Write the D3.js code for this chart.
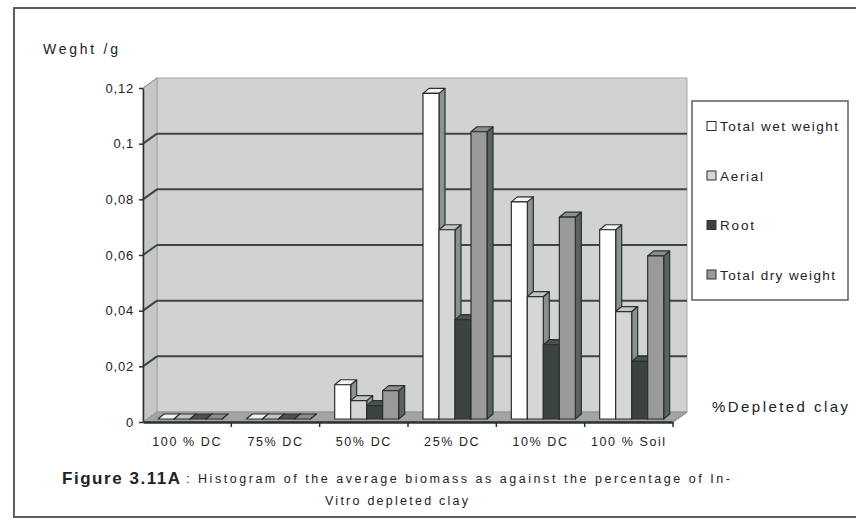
<!DOCTYPE html>
<html>
<head>
<meta charset="utf-8">
<script src="https://cdn.jsdelivr.net/npm/d3@7"></script>
<style>
  html, body { margin: 0; padding: 0; background: #fff; overflow: hidden; }
  svg { display: block; font-family: "Liberation Sans", Arial, sans-serif; }
</style>
</head>
<body>
<svg id="chart" width="856" height="519"></svg>
<script>
// Average biomass (g) per substrate treatment
const categories = ["100 % DC", "75% DC", "50% DC", "25% DC", "10% DC", "100 % Soil"];
const seriesNames = ["Total wet weight", "Aerial", "Root", "Total dry weight"];
const totalWet  = [0, 0, 0.0123, 0.117, 0.078, 0.068];
const aerial    = [0, 0, 0.0066, 0.068, 0.044, 0.0386];
const root      = [0, 0, 0.0048, 0.0357, 0.0267, 0.0207];
const totalDry  = [0, 0, 0.0102, 0.1032, 0.0725, 0.0586];
const yTickValues = [0, 0.02, 0.04, 0.06, 0.08, 0.1, 0.12];
const yTickLabels = ["0", "0,02", "0,04", "0,06", "0,08", "0,1", "0,12"];

const seriesValues = [totalWet, aerial, root, totalDry];
const faceFill = ["#ffffff", "#d6d6d6", "#3a4242", "#9a9a9a"];
const sideFill = ["#8c9292", "#8a9090", "#252b2b", "#5c6262"];
const topFill  = ["#f2f2f2", "#c4c4c4", "#4a5252", "#8a8e8e"];

const svg = d3.select("#chart");

// plot frame (front plane) and the 3D depth of the walls
const x0 = 143, x1 = 673, yBase = 422, yTop = 88;
const wallDx = 14, wallDy = -10;
const barDx = 3, barDy = -3;      // front face of the bars sits slightly behind the axis
const depthDx = 6, depthDy = -5;  // bar depth

const x = d3.scaleBand().domain(categories).range([x0, x1]).padding(0);
const xInner = d3.scaleBand().domain(seriesNames).range([12, 76]).padding(0);
const y = d3.scaleLinear().domain([0, 0.12]).range([yBase, yTop]);

// outer frame
svg.append("rect").attr("x", 14).attr("y", 8).attr("width", 860).attr("height", 509)
  .attr("fill", "none").attr("stroke", "#5a5f5f").attr("stroke-width", 2);

const line = d3.line();
const wall = svg.append("g");

// back wall
wall.append("rect")
  .attr("x", x0 + wallDx).attr("y", y(0.12) + wallDy)
  .attr("width", x1 - x0).attr("height", y(0) - y(0.12))
  .attr("fill", "#d2d2d2").attr("stroke", "#a6a6a6").attr("stroke-width", 1);
// side wall
wall.append("path")
  .attr("d", line([[x0, y(0.12)], [x0 + wallDx, y(0.12) + wallDy], [x0 + wallDx, y(0) + wallDy], [x0, y(0)]]) + "Z")
  .attr("fill", "#c6c6c6").attr("stroke", "#a6a6a6").attr("stroke-width", 1);
// floor
wall.append("path")
  .attr("d", line([[x0, y(0)], [x1, y(0)], [x1 + wallDx, y(0) + wallDy], [x0 + wallDx, y(0) + wallDy]]) + "Z")
  .attr("fill", "#a2a4a4").attr("stroke", "#8e9292").attr("stroke-width", 1);

// gridlines on back wall and side wall
const gridVals = yTickValues.filter(v => v > 0 && v < 0.12);
wall.selectAll("line.grid").data(gridVals).join("line")
  .attr("class", "grid")
  .attr("x1", x0 + wallDx).attr("x2", x1 + wallDx)
  .attr("y1", d => y(d) + wallDy).attr("y2", d => y(d) + wallDy)
  .attr("stroke", "#3c4444").attr("stroke-width", 2);
wall.selectAll("line.gridside").data(gridVals).join("line")
  .attr("class", "gridside")
  .attr("x1", x0).attr("x2", x0 + wallDx)
  .attr("y1", d => y(d)).attr("y2", d => y(d) + wallDy)
  .attr("stroke", "#3c4444").attr("stroke-width", 2);
wall.append("line")
  .attr("x1", x0).attr("x2", x0 + wallDx)
  .attr("y1", y(0.12)).attr("y2", y(0.12) + wallDy)
  .attr("stroke", "#8e9292").attr("stroke-width", 1);

// bars, drawn left to right so each one overlaps the side of its neighbour
const bars = [];
categories.forEach((c, ci) => {
  seriesNames.forEach((s, si) => {
    bars.push({ c, s, si, v: seriesValues[si][ci] });
  });
});

const barG = svg.append("g").attr("stroke", "#2a3030").attr("stroke-width", 1.2).attr("stroke-linejoin", "round");
bars.forEach(b => {
  const bx = x(b.c) + xInner(b.s) + barDx;
  const bw = xInner.bandwidth();
  const yt = y(b.v) + barDy;
  const yb = y(0) + barDy;
  const g = barG.append("g");
  // side face
  g.append("path")
    .attr("d", line([[bx + bw, yt], [bx + bw + depthDx, yt + depthDy], [bx + bw + depthDx, yb + depthDy], [bx + bw, yb]]) + "Z")
    .attr("fill", sideFill[b.si]);
  // top face
  g.append("path")
    .attr("d", line([[bx, yt], [bx + depthDx, yt + depthDy], [bx + bw + depthDx, yt + depthDy], [bx + bw, yt]]) + "Z")
    .attr("fill", topFill[b.si]);
  // front face
  g.append("rect")
    .attr("x", bx).attr("y", yt).attr("width", bw).attr("height", Math.max(0, yb - yt))
    .attr("fill", faceFill[b.si]);
});

// y axis
const yAxis = d3.axisLeft(y).tickValues(yTickValues)
  .tickFormat((d, i) => yTickLabels[i]).tickSize(4).tickSizeOuter(0).tickPadding(5);
const yAxisG = svg.append("g").attr("transform", `translate(${x0},0)`).call(yAxis);
yAxisG.select(".domain").attr("stroke", "#2a3030").attr("stroke-width", 1.5);
yAxisG.selectAll(".tick line").attr("stroke", "#2a3030").attr("stroke-width", 1.5);
yAxisG.selectAll(".tick text").attr("font-size", 13).attr("fill", "#222")
  .attr("letter-spacing", 0.8)
  .attr("font-family", "'Liberation Sans', Arial, sans-serif");

// x axis: labels at category centres, ticks at category boundaries
const xAxis = d3.axisBottom(x).tickSize(0).tickPadding(15);
const xAxisG = svg.append("g").attr("transform", `translate(0,${yBase})`).call(xAxis);
xAxisG.select(".domain").attr("stroke", "#2a3030").attr("stroke-width", 2.5);
xAxisG.selectAll(".tick text").attr("font-size", 12.5).attr("fill", "#222")
  .attr("letter-spacing", 1.6)
  .attr("font-family", "'Liberation Sans', Arial, sans-serif");
xAxisG.selectAll("line.bound").data(categories).join("line")
  .attr("class", "bound")
  .attr("x1", d => x(d) + x.bandwidth()).attr("x2", d => x(d) + x.bandwidth())
  .attr("y1", 0).attr("y2", 5)
  .attr("stroke", "#2a3030").attr("stroke-width", 1.5);
// right floor edge
svg.append("line")
  .attr("x1", x1).attr("y1", yBase).attr("x2", x1 + wallDx).attr("y2", yBase + wallDy)
  .attr("stroke", "#8e9292").attr("stroke-width", 1.5);

// axis titles
svg.append("text").attr("x", 43).attr("y", 54).attr("font-size", 14).attr("fill", "#222")
  .attr("textLength", 75).attr("lengthAdjust", "spacing").text("Weght /g");
svg.append("text").attr("x", 712).attr("y", 412).attr("font-size", 15).attr("fill", "#222")
  .attr("textLength", 136).attr("lengthAdjust", "spacing").text("%Depleted clay");

// legend
const legendWidths = [118, 43, 34, 115];
const legend = svg.append("g");
legend.append("rect").attr("x", 692).attr("y", 101).attr("width", 156).attr("height", 199)
  .attr("fill", "#fff").attr("stroke", "#5a5f5f").attr("stroke-width", 1.5);
const legendItems = legend.selectAll("g.item").data(seriesNames).join("g")
  .attr("class", "item")
  .attr("transform", (d, i) => `translate(707,${126 + i * 49.5})`);
legendItems.append("rect").attr("x", 0).attr("y", -4.5).attr("width", 9).attr("height", 9)
  .attr("fill", (d, i) => faceFill[i]).attr("stroke", "#2a3030").attr("stroke-width", 1);
legendItems.append("text").attr("x", 13).attr("y", 5).attr("font-size", 13.5).attr("fill", "#222")
  .attr("textLength", (d, i) => legendWidths[i]).attr("lengthAdjust", "spacing").text(d => d);

// caption
svg.append("text").attr("x", 62).attr("y", 484).attr("fill", "#222")
  .attr("font-weight", "bold").attr("font-size", 17)
  .attr("textLength", 118).attr("lengthAdjust", "spacing").text("Figure 3.11A");
svg.append("text").attr("x", 186).attr("y", 483).attr("fill", "#222").attr("font-size", 12.5)
  .attr("textLength", 544).attr("lengthAdjust", "spacing")
  .text(": Histogram of the  average biomass as against the percentage of In-");
svg.append("text").attr("x", 325).attr("y", 505).attr("font-size", 12.5).attr("fill", "#222")
  .attr("textLength", 143).attr("lengthAdjust", "spacing").text("Vitro depleted clay");
</script>
</body>
</html>
